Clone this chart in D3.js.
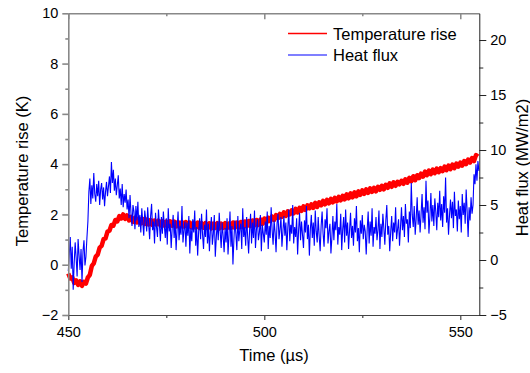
<!DOCTYPE html>
<html>
<head>
<meta charset="utf-8">
<script src="https://cdn.jsdelivr.net/npm/d3@7"></script>
<style>
    body { margin: 0; background: #fff; }
    svg { display: block; font-family: "Liberation Sans", Arial, sans-serif; }
</style>
</head>
<body>
<div id="graph"></div>
<script>
// both series start at 450 µs
const startTime = 450;
const tempStep = 0.5;   // µs between temperature samples
const fluxStep = 0.25;  // µs between heat flux samples

// temperature rise (K), left axis
const tempRise = [
    -0.35, -0.55, -0.5, -0.72, -0.62, -0.8, -0.66, -0.84, -0.68, -0.75,
    -0.5, -0.4, -0.05, 0.05, 0.32, 0.4, 0.68, 0.75, 1.02, 1.05,
    1.32, 1.35, 1.58, 1.55, 1.78, 1.72, 1.93, 1.84, 2.0, 1.82,
    1.96, 1.76, 1.9, 1.7, 1.86, 1.68, 1.84, 1.64, 1.82, 1.62,
    1.8, 1.6, 1.78, 1.58, 1.76, 1.6, 1.75, 1.56, 1.74, 1.55,
    1.72, 1.54, 1.73, 1.55, 1.72, 1.52, 1.7, 1.5, 1.7, 1.52,
    1.7, 1.5, 1.68, 1.48, 1.67, 1.48, 1.68, 1.46, 1.66, 1.47,
    1.66, 1.46, 1.65, 1.44, 1.64, 1.46, 1.66, 1.44, 1.64, 1.46,
    1.66, 1.45, 1.64, 1.46, 1.68, 1.47, 1.68, 1.48, 1.7, 1.5,
    1.72, 1.52, 1.74, 1.54, 1.76, 1.56, 1.78, 1.58, 1.8, 1.62,
    1.84, 1.66, 1.87, 1.74, 1.92, 1.78, 1.97, 1.85, 2.02, 1.9,
    2.08, 1.94, 2.12, 2.0, 2.16, 2.04, 2.22, 2.08, 2.26, 2.14,
    2.32, 2.18, 2.36, 2.24, 2.4, 2.26, 2.46, 2.3, 2.48, 2.36,
    2.54, 2.4, 2.58, 2.44, 2.62, 2.48, 2.66, 2.52, 2.7, 2.56,
    2.74, 2.6, 2.8, 2.64, 2.84, 2.68, 2.88, 2.72, 2.92, 2.78,
    2.96, 2.82, 3.0, 2.86, 3.04, 2.9, 3.06, 2.92, 3.1, 2.98,
    3.14, 3.0, 3.18, 3.06, 3.24, 3.1, 3.28, 3.14, 3.3, 3.2,
    3.34, 3.22, 3.4, 3.26, 3.46, 3.32, 3.52, 3.36, 3.56, 3.44,
    3.62, 3.5, 3.7, 3.56, 3.74, 3.6, 3.78, 3.64, 3.82, 3.68,
    3.84, 3.72, 3.9, 3.76, 3.94, 3.8, 3.98, 3.84, 4.02, 3.9,
    4.06, 3.94, 4.12, 4.0, 4.18, 4.06, 4.24, 4.12, 4.36, 4.3
];

// heat flux (MW/m2), right axis
const heatFlux = [
    -1.0, 0.5, 2.1, -0.8, 1.2, -2.7, -0.3, 1.6, 0.2, -1.5, 1.9, 0.4, -0.9, 1.0, -2.0, 0.8, 1.8, -0.5, 0.3, 2.0,
    3.5, 6.2, 7.4, 5.1, 6.8, 5.6, 7.9, 6.0, 5.3, 6.9, 5.8, 7.2, 5.0, 6.4, 7.0, 5.5, 6.6, 4.9, 6.2, 7.1,
    5.8, 6.7, 7.6, 6.1, 8.9, 7.0, 8.2, 6.3, 7.4, 5.9, 6.8, 7.7, 5.6, 6.5, 5.0, 6.9, 4.8, 6.0, 5.2, 6.4,
    4.6, 5.5, 3.8, 5.9, 4.2, 3.1, 5.0, 4.4, 2.8, 4.9, 3.6, 5.3, 3.0, 4.1, 2.5, 4.7, 3.4, 2.2, 4.5, 3.7,
    2.6, 4.8, 3.3, 1.9, 4.0, 5.1, 2.7, 3.5, 1.5, 4.3, 3.0, 2.1, 4.6, 3.2, 1.7, 3.9, 2.4, 4.4, 3.1, 2.0,
    3.8, 1.4, 4.7, 2.6, 3.3, 1.1, 2.9, 4.1, 2.0, 3.6, 0.9, 2.8, 4.4, 1.8, 3.1, 2.3, 4.9, 1.6, 2.7, 3.5,
    1.2, 3.4, 2.2, 4.0, 0.6, 2.9, 1.7, 3.7, 2.5, 4.5, 1.3, 3.0, 0.4, 2.6, 3.8, 1.9, 4.2, 2.3, 1.0, 3.2,
    2.1, 4.6, 1.5, 3.3, 0.8, 2.7, 3.9, 1.4, 2.4, 4.1, 0.3, 2.0, 3.5, 1.8, 4.3, 2.6, 1.1, 3.4, 2.2, 0.7,
    2.9, 1.6, 3.8, 0.5, 2.3, 4.4, 1.2, 3.1, -0.4, 1.9, 3.6, 2.4, 0.9, 4.0, 1.7, 2.8, 3.3, 1.0, 4.7, 2.1,
    3.0, 1.3, 3.9, 2.2, 0.6, 2.7, 4.2, 1.5, 3.4, 2.0, 4.5, 1.1, 2.8, 3.7, 1.8, 2.5, 4.1, 0.8, 3.2, 2.4,
    1.6, 3.5, 2.3, 4.4, 1.0, 3.1, 2.0, 4.8, 2.7, 1.4, 3.6, 2.5, 0.7, 3.3, 4.2, 1.9, 2.8, 3.9, 1.2, 2.6,
    4.0, 2.2, 3.4, 0.9, 2.9, 4.6, 1.7, 3.2, 2.4, 5.0, 1.5, 3.0, 2.1, 3.8, 0.5, 2.7, 4.3, 1.8, 3.5, 2.3,
    1.1, 3.6, 2.5, 4.9, 1.9, 3.2, 0.4, 2.8, 4.1, 2.0, 3.4, 1.3, 4.5, 2.6, 1.6, 3.9, 2.2, 0.8, 3.1, 4.4,
    2.4, 1.2, 3.7, 2.9, 4.7, 1.5, 2.6, 3.3, 0.6, 2.1, 4.0, 1.8, 3.5, 2.7, 5.1, 1.4, 3.0, 2.3, 4.2, 0.9,
    2.8, 3.9, 1.6, 4.6, 2.2, 3.4, 1.0, 2.7, 4.3, 2.0, 3.1, 1.3, 3.8, 2.5, 4.9, 1.7, 2.9, 0.7, 3.6, 2.4,
    4.1, 1.9, 3.2, 2.6, 0.5, 2.8, 4.4, 1.5, 3.5, 2.2, 4.7, 1.2, 3.0, 2.4, 3.9, 1.8, 2.7, 4.5, 1.0, 3.3,
    2.1, 4.2, 2.9, 1.4, 3.6, 5.0, 2.3, 3.1, 0.8, 2.6, 4.0, 1.7, 3.4, 2.5, 4.8, 1.9, 2.8, 3.7, 1.3, 3.0,
    4.8, 2.7, 4.0, 2.1, 5.1, 3.3, 3.7, 1.6, 4.4, 2.9, 7.0, 4.1, 3.0, 4.9, 2.3, 3.8, 5.7, 3.2, 4.5, 2.5,
    4.2, 6.0, 3.4, 4.8, 2.8, 7.2, 4.3, 5.4, 2.4, 4.0, 6.1, 3.5, 5.0, 3.1, 5.6, 4.4, 2.7, 5.2, 3.9, 6.3,
    3.6, 5.1, 3.0, 5.8, 4.3, 7.5, 3.4, 4.7, 2.3, 4.1, 5.5, 3.8, 5.3, 2.9, 6.2, 4.0, 4.6, 2.6, 5.4, 3.7,
    4.9, 2.5, 6.0, 4.1, 5.2, 3.3, 6.4, 4.4, 2.1, 4.8, 3.6, 5.7, 4.2, 5.0, 7.8, 6.9, 8.7, 7.2, 9.0, 8.1
];

const xMajor = [450, 500, 550];
const xMinor = [475, 525];
const leftMajor = [-2, 0, 2, 4, 6, 8, 10];
const leftMinor = [-1, 1, 3, 5, 7, 9];
const rightMajor = [-5, 0, 5, 10, 15, 20];
const rightMinor = [-2.5, 2.5, 7.5, 12.5, 17.5];
const seriesNames = ["Temperature rise", "Heat flux"];

const width = 530;
const height = 373;
const plot = {left: 68.3, top: 13.3, right: 479.3, bottom: 315};

const xScale = d3.scaleLinear().domain([450, 554.85]).range([plot.left, plot.right]);
const yLeft = d3.scaleLinear().domain([-2, 10]).range([plot.bottom, plot.top]);
const yRight = d3.scaleLinear().domain([-5, 22.43]).range([plot.bottom, plot.top]);

const svg = d3.select("#graph")
    .append("svg")
    .attr("width", width)
    .attr("height", height);

// data lines
const tempLine = d3.line().x((d, i) => xScale(startTime + i * tempStep)).y(d => yLeft(d));
const fluxLine = d3.line().x((d, i) => xScale(startTime + i * fluxStep)).y(d => yRight(d));

svg.append("path")
    .datum(tempRise)
    .attr("fill", "none")
    .attr("stroke", "#ff0000")
    .attr("stroke-width", 4.5)
    .attr("stroke-linejoin", "round")
    .attr("d", tempLine);

svg.append("path")
    .datum(heatFlux)
    .attr("fill", "none")
    .attr("stroke", "#0000ff")
    .attr("stroke-width", 1.1)
    .attr("d", fluxLine);

// axes
const styleAxis = (g, color, w) => {
    g.select(".domain").attr("stroke", color).attr("stroke-width", w);
    g.selectAll(".tick line").attr("stroke", color).attr("stroke-width", w);
    g.selectAll(".tick text").attr("fill", "#000").style("font-size", "14.5px");
};

svg.append("g")
    .attr("transform", `translate(0, ${plot.bottom})`)
    .call(d3.axisBottom(xScale).tickValues(xMajor).tickSize(5).tickSizeOuter(0).tickPadding(7))
    .call(g => styleAxis(g, "#444", 1.2));
svg.append("g")
    .attr("transform", `translate(0, ${plot.bottom})`)
    .call(d3.axisBottom(xScale).tickValues(xMinor).tickSize(3).tickSizeOuter(0).tickFormat(""))
    .call(g => { g.select(".domain").remove(); styleAxis(g, "#444", 1.2); });

svg.append("g")
    .attr("transform", `translate(0, ${plot.top})`)
    .call(d3.axisBottom(xScale).tickValues(xMajor).tickSize(6).tickSizeOuter(0).tickFormat(""))
    .call(g => styleAxis(g, "#888", 1.5));
svg.append("g")
    .attr("transform", `translate(0, ${plot.top})`)
    .call(d3.axisBottom(xScale).tickValues(xMinor).tickSize(3).tickSizeOuter(0).tickFormat(""))
    .call(g => { g.select(".domain").remove(); styleAxis(g, "#888", 1.5); });

svg.append("g")
    .attr("transform", `translate(${plot.left}, 0)`)
    .call(d3.axisLeft(yLeft).tickValues(leftMajor).tickSize(6).tickSizeOuter(0).tickPadding(4))
    .call(g => styleAxis(g, "#888", 1.6));
svg.append("g")
    .attr("transform", `translate(${plot.left}, 0)`)
    .call(d3.axisLeft(yLeft).tickValues(leftMinor).tickSize(3).tickSizeOuter(0).tickFormat(""))
    .call(g => { g.select(".domain").remove(); styleAxis(g, "#888", 1.6); });

svg.append("g")
    .attr("transform", `translate(${plot.right}, 0)`)
    .call(d3.axisRight(yRight).tickValues(rightMajor).tickSize(7).tickSizeOuter(0).tickPadding(4))
    .call(g => styleAxis(g, "#222", 1));
svg.append("g")
    .attr("transform", `translate(${plot.right}, 0)`)
    .call(d3.axisRight(yRight).tickValues(rightMinor).tickSize(4).tickSizeOuter(0).tickFormat(""))
    .call(g => { g.select(".domain").remove(); styleAxis(g, "#222", 1); });

// axis titles
svg.append("text")
    .attr("x", 274)
    .attr("y", 361)
    .attr("text-anchor", "middle")
    .style("font-size", "16.5px")
    .text("Time (µs)");

svg.append("text")
    .attr("transform", "rotate(-90)")
    .attr("x", -171)
    .attr("y", 27.5)
    .attr("text-anchor", "middle")
    .style("font-size", "16.5px")
    .text("Temperature rise (K)");

svg.append("text")
    .attr("transform", "rotate(-90)")
    .attr("x", -167.5)
    .attr("y", 528)
    .attr("text-anchor", "middle")
    .style("font-size", "16.5px")
    .text("Heat flux (MW/m2)");

// legend
const legend = svg.append("g");
const legendColors = ["#ff0000", "#0000ff"];
seriesNames.forEach((name, i) => {
    const y = 33.5 + i * 21.5;
    legend.append("line")
        .attr("x1", 288).attr("x2", 327)
        .attr("y1", y).attr("y2", y)
        .attr("stroke", legendColors[i])
        .attr("stroke-width", i === 0 ? 1.5 : 1.2);
    legend.append("text")
        .attr("x", 333)
        .attr("y", y + 6)
        .style("font-size", "16.5px")
        .text(name);
});
</script>
</body>
</html>
